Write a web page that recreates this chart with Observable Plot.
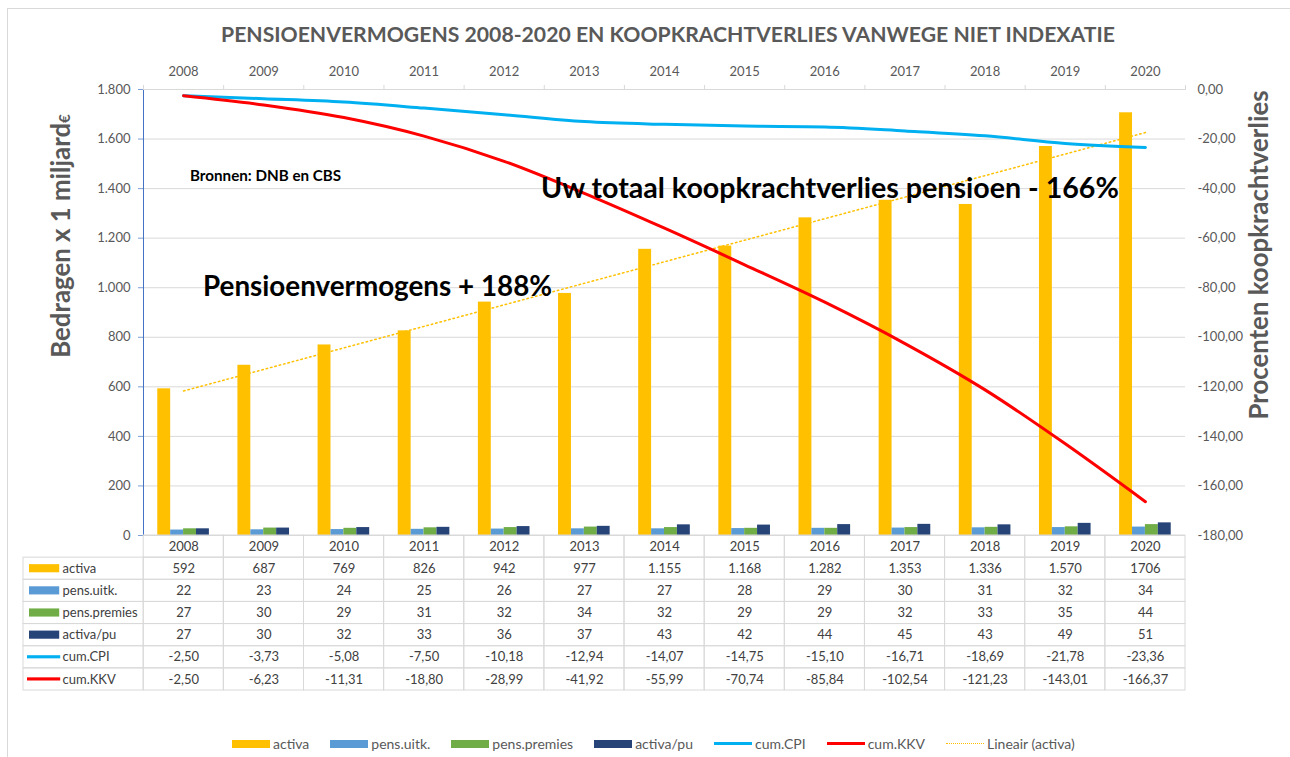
<!DOCTYPE html>
<html>
<head>
<meta charset="utf-8">
<script src="https://cdn.jsdelivr.net/npm/d3@7"></script>
<script src="https://cdn.jsdelivr.net/npm/@observablehq/plot@0.6"></script>
<style>
  html, body { margin: 0; padding: 0; background: #fff; }
  #wrap { position: relative; width: 1290px; height: 757px; font-family: Lato, "Open Sans", sans-serif; overflow: hidden; }
  .abs { position: absolute; }
  #frame { left: 7px; top: 8px; width: 1290px; height: 760px; border: 1px solid #d9d9d9; box-sizing: border-box; }
  #title { left: 0; width: 1336px; top: 21px; text-align: center; font-weight: 700; font-size: 21.2px; color: #595959; white-space: nowrap; }
  .ytitle { font-weight: 700; color: #595959; white-space: nowrap; transform-origin: center center; line-height: 1; }
  .note { font-weight: 700; color: #000; white-space: nowrap; }
  #legend { left: 232px; top: 735px; display: flex; gap: 21px; font-size: 14px; color: #595959; white-space: nowrap; }
  .li { display: flex; align-items: center; gap: 3px; }
  .sw { width: 38px; }
</style>
</head>
<body>
<div id="wrap">
  <div id="frame" class="abs"></div>
  <div id="title" class="abs">PENSIOENVERMOGENS 2008-2020 EN KOOPKRACHTVERLIES VANWEGE NIET INDEXATIE</div>
  <div id="chart" class="abs" style="left:0;top:0"></div>
  <div id="table" class="abs" style="left:0;top:535px"></div>
  <div class="abs ytitle" style="left:61px;top:236px;font-size:25.8px;transform:translate(-50%,-50%) rotate(-90deg)">Bedragen x 1 miljard<span style="font-size:15px">€</span></div>
  <div class="abs ytitle" style="left:1259px;top:255px;font-size:25.8px;transform:translate(-50%,-50%) rotate(-90deg)">Procenten koopkrachtverlies</div>
  <div class="abs note" style="left:190px;top:166px;font-size:15.2px">Bronnen: DNB en CBS</div>
  <div class="abs note" style="left:541px;top:170px;font-size:28.6px">Uw totaal koopkrachtverlies pensioen - 166%</div>
  <div class="abs note" style="left:203px;top:269px;font-size:27.8px">Pensioenvermogens + 188%</div>
  <div id="legend" class="abs"></div>
</div>
<script>
// ---- data ----
const years = [2008, 2009, 2010, 2011, 2012, 2013, 2014, 2015, 2016, 2017, 2018, 2019, 2020];
const activa = [592, 687, 769, 826, 942, 977, 1155, 1168, 1282, 1353, 1336, 1570, 1706];
const pensUitk = [22, 23, 24, 25, 26, 27, 27, 28, 29, 30, 31, 32, 34];
const pensPremies = [27, 30, 29, 31, 32, 34, 32, 29, 29, 32, 33, 35, 44];
const activaPu = [27, 30, 32, 33, 36, 37, 43, 42, 44, 45, 43, 49, 51];
const cumCPI = [-2.50, -3.73, -5.08, -7.50, -10.18, -12.94, -14.07, -14.75, -15.10, -16.71, -18.69, -21.78, -23.36];
const cumKKV = [-2.50, -6.23, -11.31, -18.80, -28.99, -41.92, -55.99, -70.74, -85.84, -102.54, -121.23, -143.01, -166.37];
const activaLabels = ["592", "687", "769", "826", "942", "977", "1.155", "1.168", "1.282", "1.353", "1.336", "1.570", "1706"];
const barSeries = ["activa", "pens.uitk.", "pens.premies", "activa/pu"];
const lineSeries = ["cum.CPI", "cum.KKV"];
const leftTicks = [0, 200, 400, 600, 800, 1000, 1200, 1400, 1600, 1800];
const rightTicks = [0, -20, -40, -60, -80, -100, -120, -140, -160, -180];

// ---- styles ----
const colors = {"activa": "#FFC000", "pens.uitk.": "#5B9BD5", "pens.premies": "#70AD47", "activa/pu": "#264478",
                "cum.CPI": "#00B0F0", "cum.KKV": "#FF0000", "trend": "#FFC000"};
const grid = "#d9d9d9";

// right axis (percent) mapped onto left scale: 0 -> 1800, -180 -> 0
const pct = p => (p + 180) * 10;
const nl = d3.formatLocale({decimal: ",", thousands: ".", grouping: [3], currency: ["€", ""], minus: "-"});
const fInt = nl.format(",d");
const f2 = nl.format(".2f");

const seriesValues = [activa, pensUitk, pensPremies, activaPu];
const rows = years.map((y, i) => ({year: y, activa: activa[i], cpi: cumCPI[i], kkv: cumKKV[i]}));
const bars = [];
const barW = 0.161;
years.forEach((y, i) => seriesValues.forEach((arr, k) => bars.push({year: y, series: barSeries[k], value: arr[i], k})));

const chart = Plot.plot({
  width: 1290, height: 535,
  marginTop: 89, marginBottom: 0, marginLeft: 143, marginRight: 105,
  style: {fontFamily: "Lato, 'Open Sans', sans-serif", fontSize: "13px", color: "#595959", background: "transparent", overflow: "visible"},
  x: {domain: [2007.5, 2020.5], axis: null, label: null},
  y: {domain: [0, 1800], axis: null, label: null},
  color: {domain: barSeries, range: barSeries.map(s => colors[s])},
  marks: [
    Plot.ruleY(leftTicks, {stroke: grid, strokeWidth: 1}),
    Plot.rectY(bars, {x1: d => d.year - 2 * barW + d.k * barW, x2: d => d.year - barW + d.k * barW, y: "value", fill: "series"}),
    Plot.linearRegressionY(rows, {x: "year", y: "activa", ci: 0, stroke: colors.trend, strokeWidth: 1.5, strokeDasharray: "1.5,3"}),
    Plot.line(rows, {x: "year", y: d => pct(d.cpi), stroke: colors["cum.CPI"], strokeWidth: 3, curve: "monotone-x"}),
    Plot.line(rows, {x: "year", y: d => pct(d.kkv), stroke: colors["cum.KKV"], strokeWidth: 3, curve: "monotone-x"}),
    Plot.ruleX([2007.5], {stroke: "#4472C4", strokeWidth: 1}),
    Plot.axisY({ticks: leftTicks, tickFormat: fInt, tickSize: 5, tickPadding: 8, stroke: "#7f9fd6", label: null}),
    Plot.axisY({anchor: "right", ticks: rightTicks.map(pct), tickFormat: d => f2(d / 10 - 180), tickSize: 0, tickPadding: 12, label: null}),
    Plot.axisX({anchor: "top", ticks: years, tickFormat: d => String(d), tickSize: 0, tickPadding: 14, label: null}),
    Plot.axisX({anchor: "top", ticks: d3.range(years.length + 1).map(i => 2007.5 + i), tickFormat: () => "", tickSize: 5, stroke: grid, label: null})
  ]
});
document.getElementById("chart").appendChild(chart);

// ---- data table ----
const rowNames = ["", ...barSeries, ...lineSeries];
const rowData = [null, activaLabels, pensUitk.map(fInt), pensPremies.map(fInt), activaPu.map(fInt), cumCPI.map(f2), cumKKV.map(f2)];
const cells = [];
years.forEach((y, i) => rowNames.forEach((r, j) => cells.push({year: y, row: j, text: j === 0 ? String(y) : rowData[j][i]})));
const labelCells = rowNames.slice(1).map((r, j) => ({row: j + 1, name: r}));

const table = Plot.plot({
  width: 1290, height: 156,
  marginTop: 0, marginBottom: 1, marginLeft: 23, marginRight: 105,
  style: {fontFamily: "Lato, 'Open Sans', sans-serif", fontSize: "13px", color: "#404040", background: "transparent", overflow: "visible"},
  x: {domain: [2006, 2020.5], axis: null},
  y: {domain: [7, 0], axis: null},
  color: {domain: [...barSeries, ...lineSeries], range: [...barSeries, ...lineSeries].map(s => colors[s])},
  marks: [
    Plot.rect(cells, {x1: d => d.year - 0.5, x2: d => d.year + 0.5, y1: "row", y2: d => d.row + 1, fill: "none", stroke: grid}),
    Plot.rect(labelCells, {x1: 2006, x2: 2007.5, y1: "row", y2: d => d.row + 1, fill: "none", stroke: grid}),
    Plot.text(cells, {x: "year", y: d => d.row + 0.5, text: "text", fill: "#404040"}),
    Plot.rect(labelCells.filter(d => barSeries.includes(d.name)), {x1: 2006, x2: 2007.5, y1: "row", y2: d => d.row + 1, fill: "name", insetLeft: 6, insetRight: 84, insetTop: 7, insetBottom: 7}),
    Plot.rect(labelCells.filter(d => lineSeries.includes(d.name)), {x1: 2006, x2: 2007.5, y1: "row", y2: d => d.row + 1, fill: "name", insetLeft: 4, insetRight: 83, insetTop: 9.5, insetBottom: 9.5}),
    Plot.text(labelCells, {x: 2006, y: d => d.row + 0.5, text: "name", textAnchor: "start", dx: 39, fill: "#404040"})
  ]
});
document.getElementById("table").appendChild(table);

// ---- legend ----
const legendItems = [
  ...barSeries.map(s => ({name: s, kind: "bar"})),
  ...lineSeries.map(s => ({name: s, kind: "line"})),
  {name: "Lineair (activa)", kind: "trend"}
];
const legend = document.getElementById("legend");
legendItems.forEach(it => {
  const d = document.createElement("div");
  d.className = "li";
  const sw = document.createElement("div");
  sw.className = "sw";
  if (it.kind === "bar") { sw.style.height = "8px"; sw.style.background = colors[it.name]; }
  else if (it.kind === "line") { sw.style.height = "3px"; sw.style.background = colors[it.name]; }
  else { sw.style.height = "0px"; sw.style.borderTop = "1.5px dotted " + colors.trend; }
  const t = document.createElement("span");
  t.textContent = it.name;
  d.appendChild(sw); d.appendChild(t);
  legend.appendChild(d);
});
</script>
</body>
</html>
